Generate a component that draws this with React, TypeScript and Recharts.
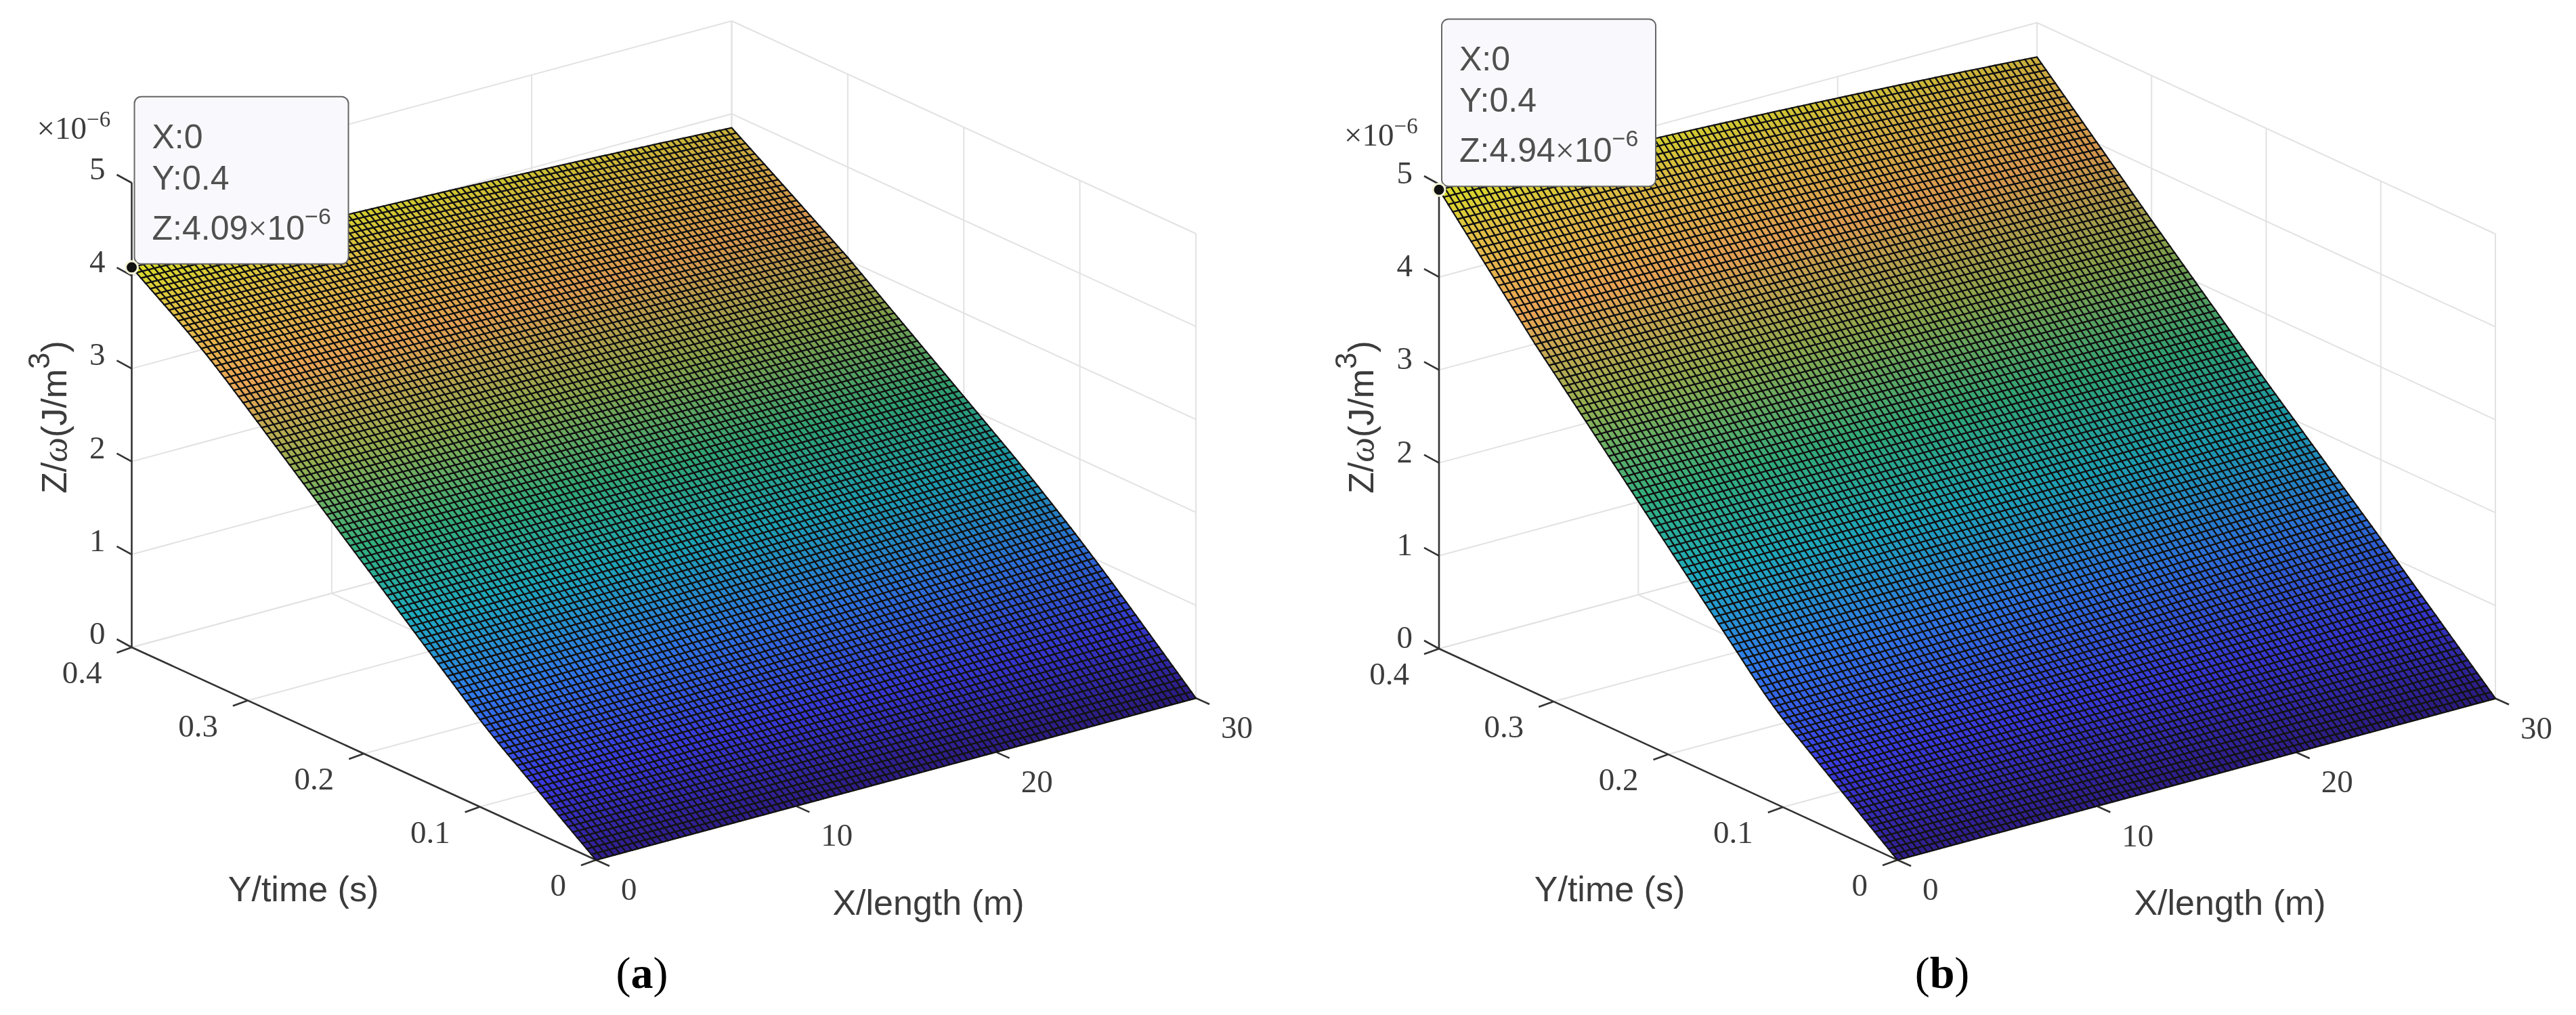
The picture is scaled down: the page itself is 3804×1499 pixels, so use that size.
import { ScatterChart, Scatter, XAxis, YAxis } from "recharts";

const xTicks = [0, 10, 20, 30];
const yTicks = [0, 0.1, 0.2, 0.3, 0.4];
const zTicks = [0, 1, 2, 3, 4, 5];

// Mesh heights (x 1e-6) are estimates read off the two visible edges of each surface,
// one value per time mesh line (0 to 0.4 s, 100 cells).
const zAtLength0A = [
  0, 0.037, 0.074, 0.111, 0.148, 0.185, 0.222, 0.259, 0.296, 0.333, 0.37, 0.407, 0.444, 0.481, 0.518, 0.555, 0.592,
  0.629, 0.666, 0.703, 0.74, 0.778, 0.817, 0.857, 0.898, 0.94, 0.983, 1.027, 1.071, 1.115, 1.159, 1.203, 1.247, 1.291,
  1.335, 1.379, 1.423, 1.467, 1.511, 1.555, 1.599, 1.643, 1.687, 1.731, 1.775, 1.819, 1.863, 1.907, 1.951, 1.995, 2.039,
  2.083, 2.127, 2.171, 2.215, 2.259, 2.303, 2.347, 2.391, 2.435, 2.479, 2.523, 2.567, 2.611, 2.655, 2.699, 2.743, 2.787,
  2.831, 2.875, 2.919, 2.963, 3.007, 3.051, 3.095, 3.139, 3.183, 3.227, 3.271, 3.314, 3.357, 3.399, 3.441, 3.482, 3.522,
  3.561, 3.599, 3.636, 3.673, 3.709, 3.745, 3.78, 3.814, 3.849, 3.883, 3.918, 3.952, 3.987, 4.021, 4.056, 4.09,
];
const zAtLength30A = [
  0, 0.046, 0.092, 0.138, 0.184, 0.23, 0.276, 0.322, 0.368, 0.414, 0.46, 0.506, 0.552, 0.598, 0.644, 0.69, 0.736, 0.781,
  0.826, 0.871, 0.915, 0.959, 1.003, 1.046, 1.089, 1.132, 1.174, 1.216, 1.258, 1.299, 1.34, 1.381, 1.421, 1.461, 1.501,
  1.54, 1.579, 1.618, 1.656, 1.694, 1.732, 1.769, 1.806, 1.843, 1.88, 1.917, 1.954, 1.991, 2.028, 2.065, 2.102, 2.139,
  2.176, 2.213, 2.25, 2.287, 2.324, 2.361, 2.398, 2.435, 2.472, 2.509, 2.546, 2.583, 2.62, 2.657, 2.694, 2.731, 2.768,
  2.805, 2.842, 2.879, 2.916, 2.953, 2.99, 3.027, 3.06, 3.093, 3.126, 3.159, 3.192, 3.224, 3.257, 3.29, 3.323, 3.356,
  3.389, 3.422, 3.455, 3.488, 3.521, 3.554, 3.587, 3.62, 3.652, 3.685, 3.718, 3.751, 3.784, 3.817, 3.85,
];
const zAtLength0B = [
  0, 0.038, 0.076, 0.114, 0.152, 0.19, 0.228, 0.266, 0.304, 0.342, 0.38, 0.418, 0.456, 0.494, 0.532, 0.57, 0.608, 0.646,
  0.684, 0.722, 0.76, 0.798, 0.836, 0.874, 0.912, 0.952, 0.994, 1.038, 1.084, 1.132, 1.182, 1.233, 1.285, 1.338, 1.391,
  1.444, 1.497, 1.549, 1.602, 1.654, 1.707, 1.759, 1.812, 1.864, 1.917, 1.969, 2.022, 2.074, 2.127, 2.179, 2.232, 2.284,
  2.337, 2.389, 2.442, 2.494, 2.547, 2.599, 2.652, 2.704, 2.757, 2.809, 2.862, 2.914, 2.967, 3.019, 3.072, 3.124, 3.177,
  3.229, 3.282, 3.334, 3.387, 3.439, 3.492, 3.544, 3.597, 3.649, 3.702, 3.754, 3.811, 3.867, 3.924, 3.98, 4.037, 4.093,
  4.15, 4.206, 4.263, 4.319, 4.376, 4.432, 4.489, 4.545, 4.602, 4.658, 4.715, 4.771, 4.828, 4.884, 4.94,
];
const zAtLength30B = [
  0, 0.046, 0.092, 0.138, 0.184, 0.23, 0.276, 0.322, 0.368, 0.414, 0.46, 0.506, 0.552, 0.598, 0.644, 0.69, 0.736, 0.782,
  0.828, 0.874, 0.92, 0.966, 1.012, 1.058, 1.104, 1.15, 1.195, 1.24, 1.285, 1.33, 1.375, 1.42, 1.465, 1.51, 1.555, 1.6,
  1.645, 1.69, 1.735, 1.78, 1.825, 1.87, 1.915, 1.96, 2.005, 2.05, 2.095, 2.14, 2.185, 2.23, 2.275, 2.322, 2.368, 2.415,
  2.461, 2.508, 2.555, 2.601, 2.648, 2.694, 2.741, 2.788, 2.834, 2.881, 2.927, 2.974, 3.021, 3.067, 3.114, 3.16, 3.207,
  3.254, 3.3, 3.347, 3.393, 3.44, 3.488, 3.535, 3.583, 3.63, 3.678, 3.726, 3.773, 3.821, 3.868, 3.916, 3.964, 4.011,
  4.059, 4.106, 4.154, 4.202, 4.249, 4.297, 4.344, 4.392, 4.44, 4.487, 4.535, 4.582, 4.63,
];
// how far each length mesh line (0 to 30 m) has moved from the 0 m edge to the 30 m edge
const lengthBlend = [
  0, 0.005, 0.01, 0.015, 0.021, 0.026, 0.032, 0.037, 0.043, 0.049, 0.055, 0.061, 0.067, 0.073, 0.08, 0.086, 0.093, 0.099,
  0.106, 0.113, 0.12, 0.127, 0.134, 0.141, 0.149, 0.156, 0.164, 0.171, 0.179, 0.187, 0.195, 0.203, 0.211, 0.219, 0.228,
  0.236, 0.245, 0.253, 0.262, 0.271, 0.28, 0.289, 0.298, 0.307, 0.317, 0.326, 0.336, 0.345, 0.355, 0.365, 0.375, 0.385,
  0.395, 0.405, 0.416, 0.426, 0.437, 0.447, 0.458, 0.469, 0.48, 0.491, 0.502, 0.513, 0.525, 0.536, 0.548, 0.559, 0.571,
  0.583, 0.595, 0.607, 0.619, 0.631, 0.644, 0.656, 0.669, 0.681, 0.694, 0.707, 0.72, 0.733, 0.746, 0.759, 0.773, 0.786,
  0.8, 0.813, 0.827, 0.841, 0.855, 0.869, 0.883, 0.897, 0.912, 0.926, 0.941, 0.955, 0.97, 0.985, 1,
];

const colorStops: [number, number[]][] = [
  [0, [48, 30, 140]],
  [0.12, [58, 58, 225]],
  [0.26, [48, 120, 235]],
  [0.4, [30, 170, 190]],
  [0.52, [50, 175, 125]],
  [0.66, [150, 175, 80]],
  [0.8, [235, 165, 85]],
  [0.92, [225, 190, 70]],
  [1, [215, 220, 40]],
];

const SERIF = "'Liberation Serif', serif";
const SANS = "'Liberation Sans', sans-serif";
const INK = "#3c3c3c";

const panelA = {
  domain: [0, 1902],
  origin: [880, 1270],
  xVec: [886, -239],
  yVec: [-685.5, -314],
  zUnit: 137.2,
  edge0: zAtLength0A,
  edge30: zAtLength30A,
  tipZ: "4.09",
  tag: "a",
  tagX: 948,
  zLabelShift: -21,
  sciShift: -65,
  yTitleShift: -432,
};
const panelB = {
  domain: [1902, 3804],
  origin: [2802, 1270],
  xVec: [883, -238.5],
  yVec: [-677, -312],
  zUnit: 137.2,
  edge0: zAtLength0B,
  edge30: zAtLength30B,
  tipZ: "4.94",
  tag: "b",
  tagX: 2868,
  zLabelShift: -17,
  sciShift: -57,
  yTitleShift: -425,
};
type Panel = typeof panelA;

const project = (p: Panel, x: number, y: number, z: number) => [
  p.origin[0] + (p.xVec[0] * x) / 30 + (p.yVec[0] * y) / 0.4,
  p.origin[1] + (p.xVec[1] * x) / 30 + (p.yVec[1] * y) / 0.4 - p.zUnit * z,
];

const colorAt = (t: number, shade: number) => {
  let k = 0;
  while (k < colorStops.length - 2 && t > colorStops[k + 1][0]) k++;
  const [t0, c0] = colorStops[k];
  const [t1, c1] = colorStops[k + 1];
  const f = Math.min(1, Math.max(0, (t - t0) / (t1 - t0)));
  const rgb = c0.map((v, n) => Math.round((v + (c1[n] - v) * f) * shade));
  return `rgb(${rgb[0]},${rgb[1]},${rgb[2]})`;
};

const buildCells = (p: Panel) => {
  const height = (i: number, j: number) => p.edge0[j] + lengthBlend[i] * (p.edge30[j] - p.edge0[j]);
  const peak = p.edge0[100];
  const cells = [];
  for (let j = 0; j < 100; j++) {
    for (let i = 0; i < 100; i++) {
      const a = project(p, i * 0.3, j * 0.004, height(i, j));
      const b = project(p, (i + 1) * 0.3, j * 0.004, height(i + 1, j));
      const c = project(p, (i + 1) * 0.3, (j + 1) * 0.004, height(i + 1, j + 1));
      const d = project(p, i * 0.3, (j + 1) * 0.004, height(i, j + 1));
      cells.push({
        sx: a[0],
        sy: a[1],
        corners: [a, b, c, d].map((q) => [q[0] - a[0], q[1] - a[1]]),
        fill: colorAt(height(i, j) / peak, 1 - 0.1 * (i / 100)),
      });
    }
  }
  return cells;
};

const seg = (from: number[], to: number[]) => ({ sx: from[0], sy: from[1], dx: to[0] - from[0], dy: to[1] - from[1] });

const buildGrid = (p: Panel) => {
  const lines = [];
  for (const z of zTicks) {
    lines.push(seg(project(p, 0, 0.4, z), project(p, 30, 0.4, z)));
    lines.push(seg(project(p, 30, 0.4, z), project(p, 30, 0, z)));
  }
  for (const x of xTicks) {
    lines.push(seg(project(p, x, 0, 0), project(p, x, 0.4, 0)));
    if (x > 0) lines.push(seg(project(p, x, 0.4, 0), project(p, x, 0.4, 5)));
  }
  for (const y of yTicks) {
    lines.push(seg(project(p, 0, y, 0), project(p, 30, y, 0)));
    lines.push(seg(project(p, 30, y, 0), project(p, 30, y, 5)));
  }
  return lines;
};

const buildAxes = (p: Panel) => {
  const lines = [
    seg(project(p, 0, 0.4, 0), project(p, 0, 0.4, 5)),
    seg(project(p, 0, 0.4, 0), project(p, 0, 0, 0)),
    seg(project(p, 0, 0, 0), project(p, 30, 0, 0)),
  ];
  const offset = (q: number[], dx: number, dy: number) => [q[0] + dx, q[1] + dy];
  for (const z of zTicks) {
    const q = project(p, 0, 0.4, z);
    lines.push(seg(q, offset(q, -22, -12)));
  }
  for (const y of yTicks) {
    const q = project(p, 0, y, 0);
    lines.push(seg(q, offset(q, -22, 8)));
  }
  for (const x of xTicks) {
    const q = project(p, x, 0, 0);
    lines.push(seg(q, offset(q, 20, 9)));
  }
  return lines;
};

const buildLabels = (p: Panel) => {
  const labels: any[] = [];
  const O = p.origin;
  const tick = (q: number[], dx: number, dy: number, text: string, anchor: string) =>
    labels.push({ sx: q[0] + dx, sy: q[1] + dy, text, anchor, size: 47, family: SERIF });
  zTicks.forEach((z) => tick(project(p, 0, 0.4, z), -39, p.zLabelShift, String(z), "end"));
  yTicks.forEach((y) => tick(project(p, 0, y, 0), -44, 37, String(y), "end"));
  xTicks.forEach((x) => tick(project(p, x, 0, 0), 37, 43, String(x), "start"));
  labels.push({ sx: O[0] + p.yTitleShift, sy: O[1] + 43, text: "Y/time (s)", anchor: "middle", size: 52, family: SANS });
  labels.push({ sx: O[0] + 491, sy: O[1] + 63, text: "X/length (m)", anchor: "middle", size: 52, family: SANS });
  return labels;
};

const Segment = (stroke: string, width: number) => (props: any) => (
  <line
    x1={props.cx}
    y1={props.cy}
    x2={props.cx + props.payload.dx}
    y2={props.cy + props.payload.dy}
    stroke={stroke}
    strokeWidth={width}
  />
);

const SurfaceCell = (props: any) => (
  <polygon
    points={props.payload.corners.map((q: number[]) => `${props.cx + q[0]},${props.cy + q[1]}`).join(" ")}
    fill={props.payload.fill}
    stroke="#121212"
    strokeWidth={2.2}
  />
);

const TextMark = (props: any) => {
  const d = props.payload;
  return (
    <text
      x={props.cx}
      y={props.cy}
      textAnchor={d.anchor}
      dominantBaseline="central"
      fontFamily={d.family}
      fontSize={d.size}
      fill={INK}
    >
      {d.text}
    </text>
  );
};

const ZAxisTitle = (props: any) => (
  <text
    x={props.cx}
    y={props.cy}
    transform={`rotate(-90 ${props.cx} ${props.cy})`}
    textAnchor="middle"
    fontFamily={SANS}
    fontSize={52}
    fill={INK}
  >
    Z/
    <tspan fontFamily={SERIF} fontStyle="italic">
      ω
    </tspan>
    (J/m
    <tspan dy={-25} fontSize={44}>
      3
    </tspan>
    <tspan dy={25}>)</tspan>
  </text>
);

const ScaleNote = (props: any) => (
  <text x={props.cx} y={props.cy} fontFamily={SERIF} fontSize={47} fill={INK}>
    ×10
    <tspan dy={-18} fontSize={33}>
      −6
    </tspan>
  </text>
);

const PanelTag = (props: any) => (
  <text x={props.cx} y={props.cy} textAnchor="middle" dominantBaseline="central" fontFamily={SERIF} fontSize={66} fill="#000">
    (<tspan fontWeight="bold">{props.payload.tag}</tspan>)
  </text>
);

const DataTip = (props: any) => {
  const { cx, cy, payload } = props;
  const textProps = { x: cx + 30, fontFamily: SANS, fontSize: 50, fill: "#505050", dominantBaseline: "central" as const };
  return (
    <g>
      <rect x={cx + 4} y={cy - 252} width={316} height={247} rx={10} fill="#f9f9fd" stroke="#666" strokeWidth={2} />
      <text {...textProps} y={cy - 193}>
        X:0
      </text>
      <text {...textProps} y={cy - 132}>
        Y:0.4
      </text>
      <text {...textProps} y={cy - 58}>
        Z:{payload.tipZ}
        <tspan fontFamily={SERIF}>×</tspan>
        10
        <tspan dy={-18} fontSize={34}>
          −6
        </tspan>
      </text>
      <circle cx={cx} cy={cy} r={9} fill="#111" stroke="#f4f4d8" strokeWidth={3} />
    </g>
  );
};

function SurfacePanel({ panel }: { panel: Panel }) {
  const tip = project(panel, 0, 0.4, panel.edge0[100]);
  const zAxisTop = project(panel, 0, 0.4, 5);
  return (
    <ScatterChart
      width={1902}
      height={1499}
      margin={{ top: 0, right: 0, bottom: 0, left: 0 }}
      style={{ position: "absolute", left: panel.domain[0], top: 0 }}
    >
      <XAxis type="number" dataKey="sx" domain={panel.domain} allowDataOverflow hide />
      <YAxis type="number" dataKey="sy" domain={[0, 1499]} reversed allowDataOverflow hide />
      <Scatter data={buildGrid(panel)} shape={Segment("#e2e2e2", 2)} isAnimationActive={false} />
      <Scatter data={buildAxes(panel)} shape={Segment("#333", 2.6)} isAnimationActive={false} />
      <Scatter data={buildCells(panel)} shape={SurfaceCell} isAnimationActive={false} />
      <Scatter data={buildLabels(panel)} shape={TextMark} isAnimationActive={false} />
      <Scatter data={[{ sx: zAxisTop[0] - 97, sy: 616 }]} shape={ZAxisTitle} isAnimationActive={false} />
      <Scatter
        data={[{ sx: zAxisTop[0] - 140, sy: zAxisTop[1] + panel.sciShift }]}
        shape={ScaleNote}
        isAnimationActive={false}
      />
      <Scatter data={[{ sx: panel.tagX, sy: 1436, tag: panel.tag }]} shape={PanelTag} isAnimationActive={false} />
      <Scatter data={[{ sx: tip[0], sy: tip[1], tipZ: panel.tipZ }]} shape={DataTip} isAnimationActive={false} />
    </ScatterChart>
  );
}

export default function App() {
  return (
    <div
      style={{
        position: "absolute",
        left: 0,
        top: 0,
        width: 3804,
        height: 1499,
        background: "#fff",
        filter: "blur(0.7px)",
      }}
    >
      <SurfacePanel panel={panelA} />
      <SurfacePanel panel={panelB} />
    </div>
  );
}
